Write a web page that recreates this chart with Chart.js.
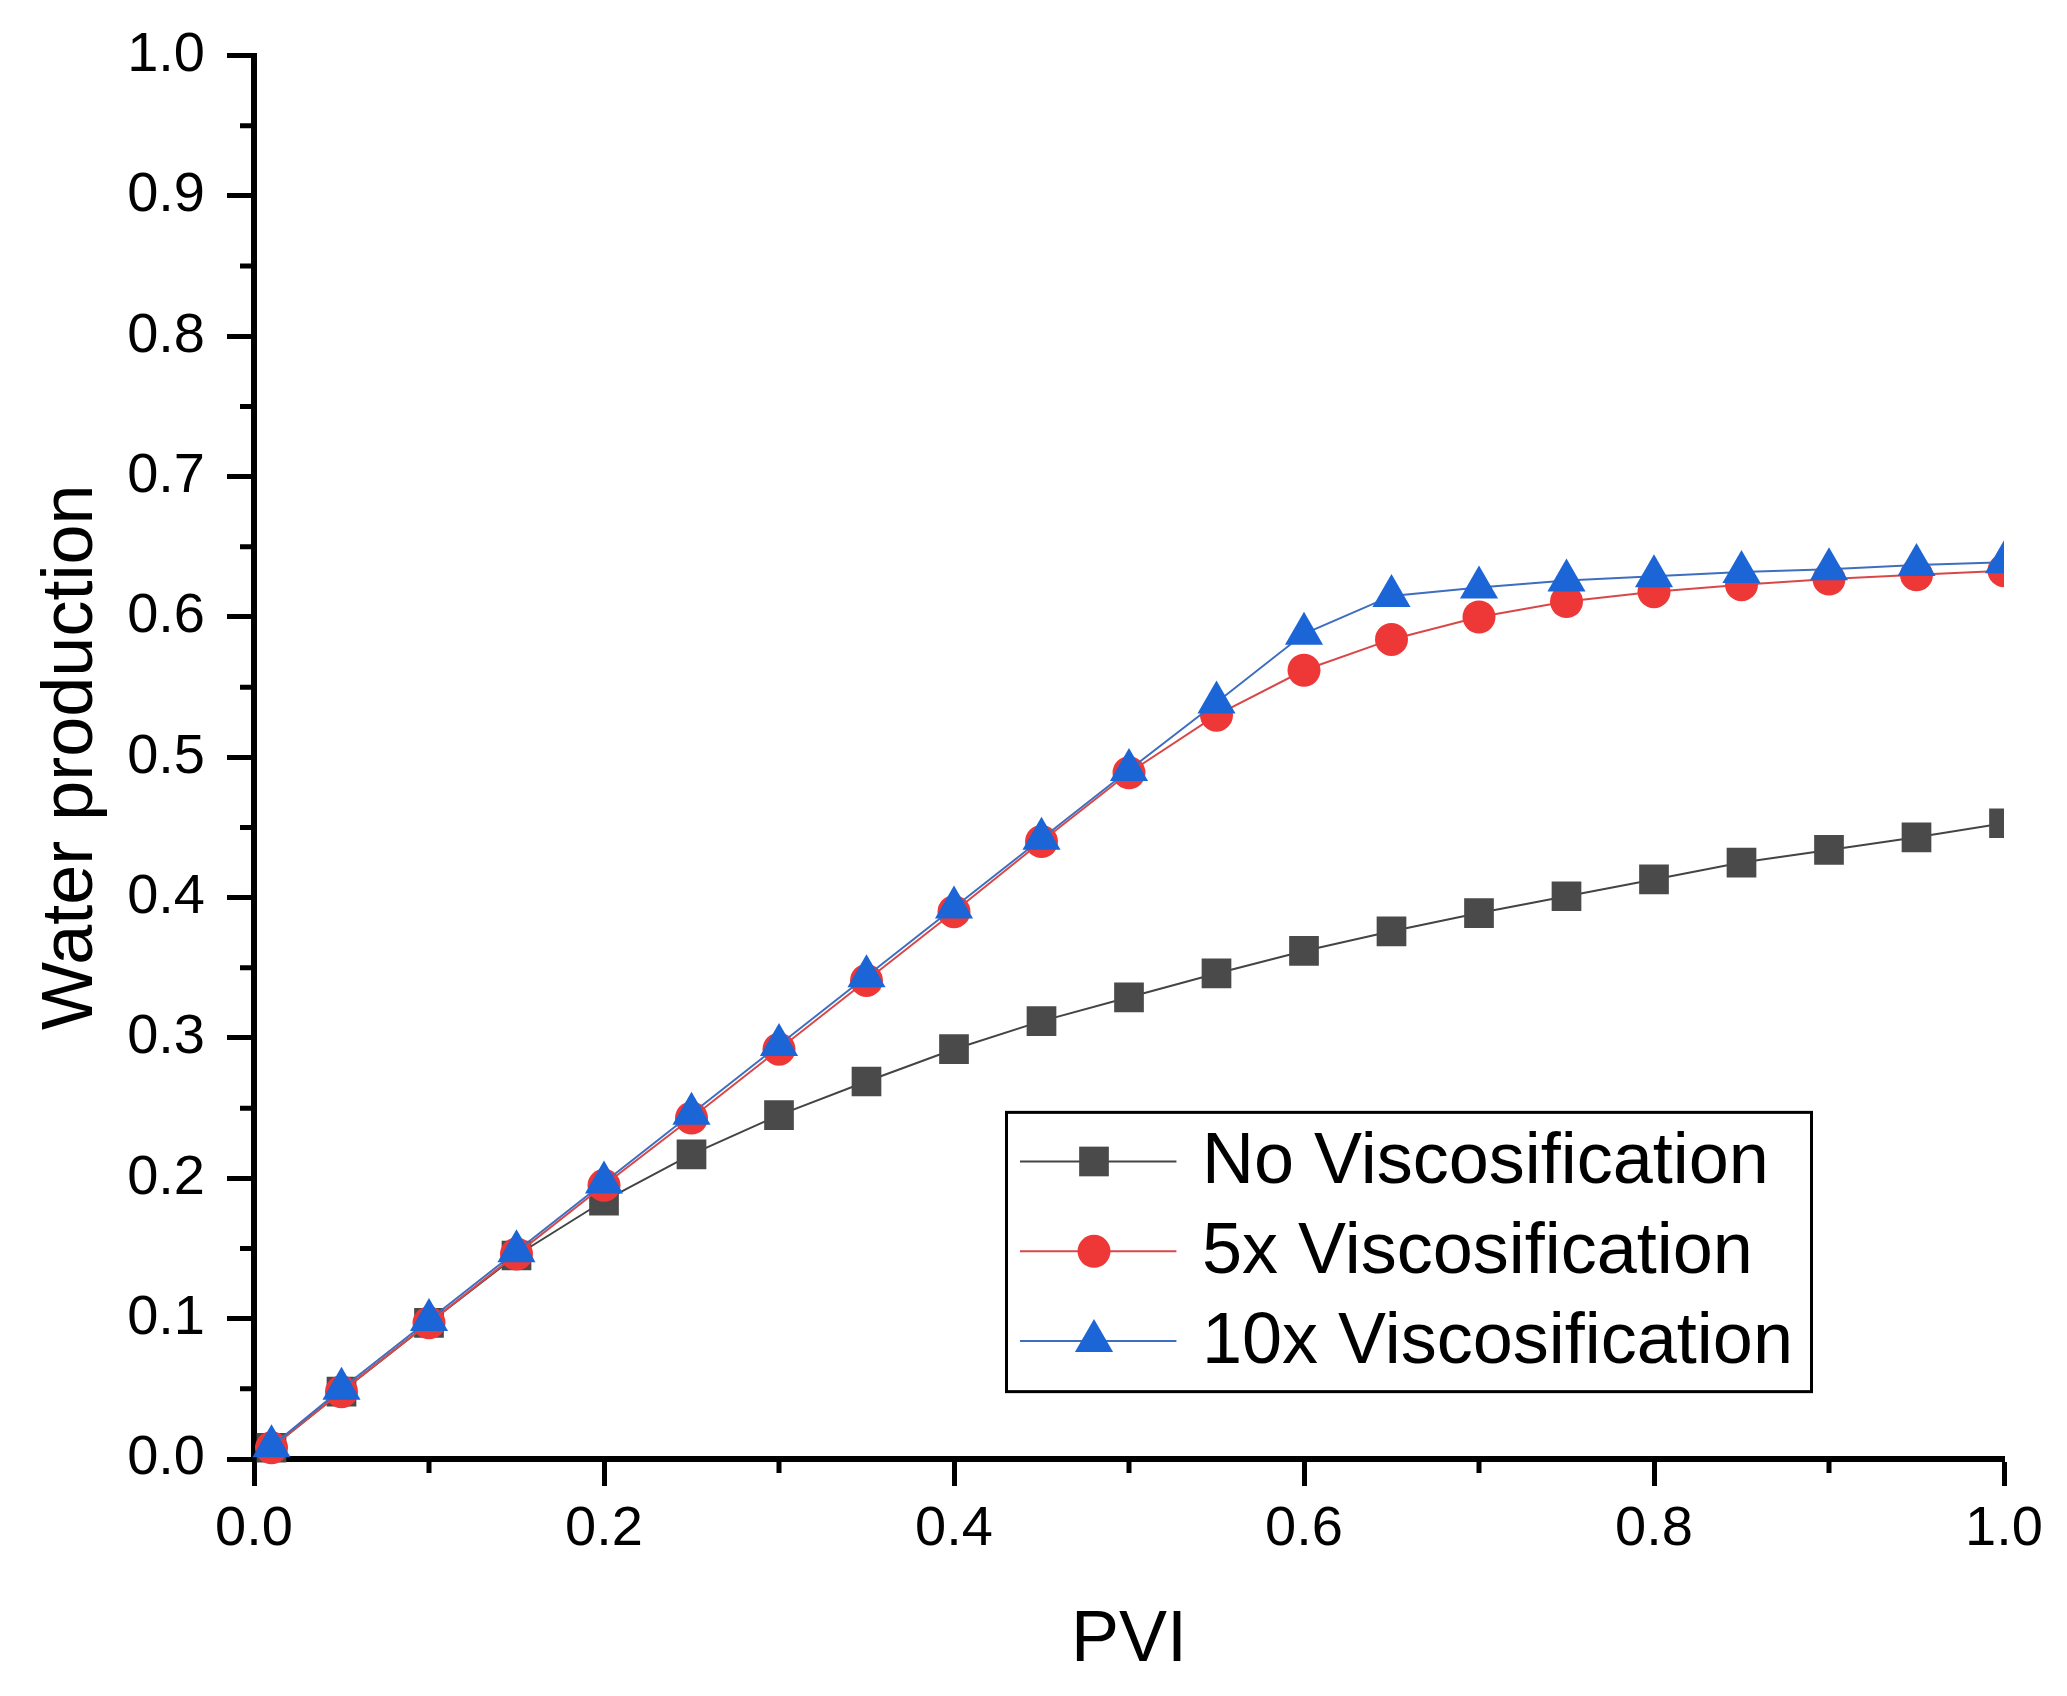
<!DOCTYPE html>
<html>
<head>
<meta charset="utf-8">
<script src="https://cdn.jsdelivr.net/npm/chart.js@4/dist/chart.umd.min.js"></script>
<style>
  html, body { margin: 0; padding: 0; background: #fff; }
  #wrap { width: 2067px; height: 1696px; position: relative; }
</style>
</head>
<body>
<div id="wrap"><canvas id="cv"></canvas></div>
<script>
'use strict';

/****************************** Données ******************************/
var pvi = [0.01, 0.05, 0.1, 0.15, 0.2, 0.25, 0.3, 0.35, 0.4, 0.45, 0.5,
           0.55, 0.6, 0.65, 0.7, 0.75, 0.8, 0.85, 0.9, 0.95, 1.0];

var noVisc = [0.008, 0.048, 0.097, 0.145, 0.184, 0.217, 0.245, 0.269, 0.292, 0.312, 0.329,
              0.346, 0.362, 0.376, 0.389, 0.401, 0.413, 0.425, 0.434, 0.443, 0.453];
var visc5 = [0.008, 0.048, 0.097, 0.146, 0.195, 0.243, 0.292, 0.341, 0.390, 0.440, 0.489,
             0.530, 0.562, 0.584, 0.600, 0.611, 0.618, 0.623, 0.627, 0.630, 0.633];
var visc10 = [0.009, 0.050, 0.099, 0.148, 0.197, 0.246, 0.295, 0.344, 0.393, 0.442, 0.491,
              0.539, 0.588, 0.615, 0.621, 0.626, 0.629, 0.632, 0.634, 0.637, 0.639];

var seriesNames = ['No Viscosification', '5x Viscosification', '10x Viscosification'];
var xTicks = [0.0, 0.2, 0.4, 0.6, 0.8, 1.0];
var yTicks = [0.0, 0.1, 0.2, 0.3, 0.4, 0.5, 0.6, 0.7, 0.8, 0.9, 1.0];

function toPoints(ys) {
  return ys.map(function(y, i) { return {x: pvi[i], y: y}; });
}

var FONT = '"Liberation Sans", Arial, sans-serif';

/****************************** Petits traits (ticks mineurs) ******************************/
var minorTicks = {
  id: 'minorTicks',
  afterDraw: function(chart) {
    var ctx = chart.ctx;
    var xs = chart.scales.x, ys = chart.scales.y;
    ctx.save();
    ctx.strokeStyle = '#000';
    ctx.lineWidth = 5;
    ctx.beginPath();
    for (var i = 0; i < xs.ticks.length - 1; i++) {
      var px = (xs.getPixelForValue(xs.ticks[i].value) + xs.getPixelForValue(xs.ticks[i + 1].value)) / 2;
      ctx.moveTo(px, xs.top);
      ctx.lineTo(px, xs.top + 14);
    }
    for (var j = 0; j < ys.ticks.length - 1; j++) {
      var py = (ys.getPixelForValue(ys.ticks[j].value) + ys.getPixelForValue(ys.ticks[j + 1].value)) / 2;
      ctx.moveTo(ys.right, py);
      ctx.lineTo(ys.right - 14, py);
    }
    ctx.stroke();
    ctx.restore();
  }
};

/****************************** Légende encadrée ******************************/
var boxLegend = {
  id: 'boxLegend',
  afterDraw: function(chart) {
    var ctx = chart.ctx;
    var xs = chart.scales.x, ys = chart.scales.y;
    var left = xs.getPixelForValue(0.43), right = xs.getPixelForValue(0.89);
    var top = ys.getPixelForValue(0.247), bottom = ys.getPixelForValue(0.048);
    var rows = [0.212, 0.148, 0.084];
    var lx1 = xs.getPixelForValue(0.4377), lx2 = xs.getPixelForValue(0.5271);
    var mx = xs.getPixelForValue(0.48), tx = xs.getPixelForValue(0.5417);

    ctx.save();
    ctx.fillStyle = '#fff';
    ctx.fillRect(left, top, right - left, bottom - top);
    ctx.strokeStyle = '#000';
    ctx.lineWidth = 3;
    ctx.strokeRect(left, top, right - left, bottom - top);

    chart.data.datasets.forEach(function(ds, i) {
      var py = ys.getPixelForValue(rows[i]);
      ctx.strokeStyle = ds.borderColor;
      ctx.lineWidth = ds.borderWidth;
      ctx.beginPath();
      ctx.moveTo(lx1, py);
      ctx.lineTo(lx2, py);
      ctx.stroke();
      ctx.fillStyle = ds.pointBackgroundColor;
      ctx.strokeStyle = ds.pointBorderColor;
      Chart.helpers.drawPoint(ctx, {
        pointStyle: ds.pointStyle, radius: ds.pointRadius, rotation: 0, borderWidth: 0
      }, mx, py);
      ctx.fillStyle = '#000';
      ctx.font = '72px ' + FONT;
      ctx.textBaseline = 'middle';
      ctx.fillText(ds.label, tx, py + 2);
    });
    ctx.restore();
  }
};

/****************************** Graphique ******************************/
var chart = new Chart(document.getElementById('cv').getContext('2d'), {
  type: 'line',
  data: {
    datasets: [{
      label: seriesNames[0],
      data: toPoints(noVisc),
      borderColor: '#444444',
      borderWidth: 2,
      pointStyle: 'rect',
      pointRadius: 21,
      pointBackgroundColor: '#4a4a4a',
      pointBorderColor: '#4a4a4a',
      pointBorderWidth: 0,
      order: 2
    }, {
      label: seriesNames[1],
      data: toPoints(visc5),
      borderColor: '#d94848',
      borderWidth: 2,
      pointStyle: 'circle',
      pointRadius: 16.5,
      pointBackgroundColor: '#ee3838',
      pointBorderColor: '#ee3838',
      pointBorderWidth: 0,
      order: 1
    }, {
      label: seriesNames[2],
      data: toPoints(visc10),
      borderColor: '#3d6ec0',
      borderWidth: 2,
      pointStyle: 'triangle',
      pointRadius: 22,
      pointBackgroundColor: '#1b65d6',
      pointBorderColor: '#1b65d6',
      pointBorderWidth: 0,
      order: 0
    }]
  },
  options: {
    responsive: true,
    maintainAspectRatio: false,
    animation: false,
    devicePixelRatio: 1,
    layout: { padding: { top: 50, right: 63, left: 0, bottom: 0 } },
    elements: { line: { tension: 0 } },
    datasets: { line: { clip: { left: 30, top: 30, right: 0, bottom: 30 } } },
    plugins: {
      legend: { display: false },
      tooltip: { enabled: false }
    },
    scales: {
      x: {
        type: 'linear',
        min: 0,
        max: 1,
        afterFit: function(scale) { scale.height = 237; },
        afterBuildTicks: function(scale) {
          scale.ticks = xTicks.map(function(v) { return {value: v}; });
        },
        ticks: {
          font: { family: FONT, size: 56 },
          color: '#000',
          padding: 10,
          maxRotation: 0,
          callback: function(v) { return v.toFixed(1); }
        },
        grid: { drawOnChartArea: false, drawTicks: true, tickLength: 27, tickWidth: 5, tickColor: '#000' },
        border: { display: true, color: '#000', width: 6 },
        title: {
          display: true,
          text: 'PVI',
          font: { family: FONT, size: 72 },
          color: '#000',
          padding: { top: 0, bottom: 12 }
        }
      },
      y: {
        type: 'linear',
        min: 0,
        max: 1,
        afterFit: function(scale) { scale.width = 254; },
        afterBuildTicks: function(scale) {
          scale.ticks = yTicks.map(function(v) { return {value: v}; });
        },
        ticks: {
          font: { family: FONT, size: 56 },
          color: '#000',
          padding: 22,
          callback: function(v) { return v.toFixed(1); }
        },
        grid: { drawOnChartArea: false, drawTicks: true, tickLength: 27, tickWidth: 5, tickColor: '#000' },
        border: { display: true, color: '#000', width: 6 },
        title: {
          display: true,
          text: 'Water production',
          font: { family: FONT, size: 72 },
          color: '#000',
          padding: { top: 29, bottom: 0 }
        }
      }
    }
  },
  plugins: [minorTicks, boxLegend]
});
</script>
</body>
</html>
